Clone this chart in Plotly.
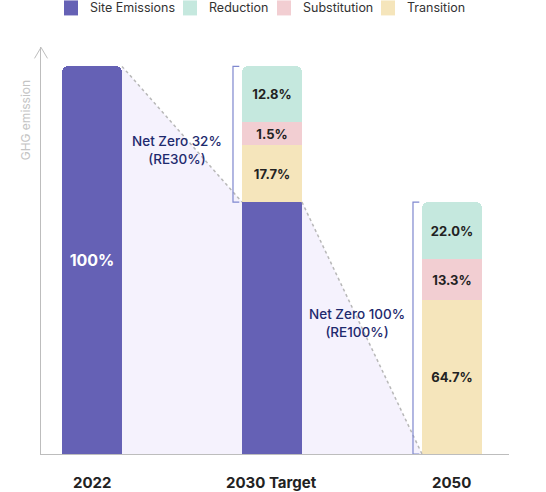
import plotly.graph_objects as go

# ---------------- data ----------------
categories = ["2022", "2030 Target", "2050"]
# displayed segment heights (share of the 2022 bar height)
site_heights = [100, 65, 0]
transition_heights = [0, 14.7, 39.7]
substitution_heights = [0, 5.9, 10.6]
reduction_heights = [0, 14.4, 14.7]
# label values
site_labels = ["100%", "", ""]
transition_labels = ["", "17.7%", "64.7%"]
substitution_labels = ["", "1.5%", "13.3%"]
reduction_labels = ["", "12.8%", "22.0%"]
net_zero_texts = ["Net Zero 32%<br>(RE30%)", "Net Zero 100%<br>(RE100%)"]

# ---------------- styling ----------------
FONT = "Inter"
C_SITE = "#6561B5"
C_RED = "#C5E8DE"
C_SUB = "#F2CED2"
C_TRA = "#F5E5BB"
C_FILL = "#F5F2FD"
C_AXIS = "#BDBDBD"
C_BRACKET = "#7F88CF"
C_NAVY = "#1E2A6E"

W, H = 546, 492
L, R, T, B = 41, 37, 46.6, 38
plot_h = H - T - B
x_pos = [0, 1, 2]
bw = 1 / 3
x_range = [-0.2833, 2.3167]
y_range = [0, 105]


def px_to_paper_y(py):
    return (H - B - py) / plot_h


def px_to_paper_x(px):
    return (px - L) / (W - L - R)


fig = go.Figure()

# lavender fill + dotted connector derived from bar data
tot2022 = site_heights[0] + transition_heights[0] + substitution_heights[0] + reduction_heights[0]
p1 = (x_pos[0] + bw / 2, tot2022)
p2 = (x_pos[1] - bw / 2, site_heights[1])
p3 = (x_pos[1] + bw / 2, site_heights[1])
p4 = (x_pos[2] - bw / 2, 0)

for a, b in [(p1, p2), (p3, p4)]:
    fig.add_trace(go.Scatter(
        x=[a[0], b[0], b[0], a[0], a[0]], y=[a[1], b[1], 0, 0, a[1]],
        fill="toself", fillcolor=C_FILL, line=dict(width=0),
        mode="lines", hoverinfo="skip", showlegend=False))
    fig.add_trace(go.Scatter(
        x=[a[0], b[0]], y=[a[1], b[1]], mode="lines",
        line=dict(color="#B8B8B8", width=1.5, dash="dot"),
        hoverinfo="skip", showlegend=False))

series = [
    ("Site Emissions", site_heights, site_labels, C_SITE, "white", 16),
    ("Transition", transition_heights, transition_labels, C_TRA, "#222222", 13),
    ("Substitution", substitution_heights, substitution_labels, C_SUB, "#222222", 13),
    ("Reduction", reduction_heights, reduction_labels, C_RED, "#222222", 13),
]
for name, vals, labels, color, tcol, tsize in series:
    fig.add_trace(go.Bar(
        x=x_pos, y=vals, name=name, width=bw, marker=dict(color=color, line=dict(width=0)),
        text=labels, textposition="inside", insidetextanchor="middle",
        textangle=0,
        textfont=dict(family=FONT, size=tsize, color=tcol, weight="bold"),
        showlegend=False, hoverinfo="skip"))

shapes = []
annotations = []

# brackets
gap = 0.05
tick = 0.035
tops = [site_heights[i] + transition_heights[i] + substitution_heights[i] + reduction_heights[i] for i in range(3)]
for i, lo in [(1, site_heights[1]), (2, 0)]:
    xb = x_pos[i] - bw / 2 - gap
    hi = tops[i]
    shapes.append(dict(type="path", xref="x", yref="y",
                       path=f"M {xb + tick} {hi} L {xb} {hi} L {xb} {lo} L {xb + tick} {lo}",
                       line=dict(color=C_BRACKET, width=1.2)))

# net zero annotations
annotations.append(dict(x=(p1[0] + p2[0]) / 2 - 0.025, y=78.5, xref="x", yref="y", text=net_zero_texts[0],
                        showarrow=False, xanchor="center", yanchor="middle",
                        font=dict(family=FONT, size=13.5, color=C_NAVY, weight=500)))
annotations.append(dict(x=(p3[0] + p4[0]) / 2 - 0.03, y=33.8, xref="x", yref="y", text=net_zero_texts[1],
                        showarrow=False, xanchor="center", yanchor="middle",
                        font=dict(family=FONT, size=13.5, color=C_NAVY, weight=500)))

# category labels
for xi, c in zip(x_pos, categories):
    annotations.append(dict(x=xi, y=0, xref="x", yref="y", text=c, showarrow=False,
                            xanchor="center", yanchor="top", yshift=-17,
                            font=dict(family=FONT, size=15, color="#222222", weight="bold")))

# y-axis title
annotations.append(dict(x=px_to_paper_x(25), y=px_to_paper_y(120), xref="paper", yref="paper",
                        text="GHG emission", textangle=-90, showarrow=False,
                        xanchor="center", yanchor="middle",
                        font=dict(family=FONT, size=12, color="#C4C4C4")))

# arrow head on y axis
shapes.append(dict(type="path", xref="paper", yref="paper",
                   path=f"M {px_to_paper_x(34.5)} {px_to_paper_y(58)} L 0 {px_to_paper_y(47)} L {px_to_paper_x(47.5)} {px_to_paper_y(58)}",
                   line=dict(color=C_AXIS, width=1)))

# manual legend
legend_items = [("Site Emissions", C_SITE, 64), ("Reduction", C_RED, 183),
                ("Substitution", C_SUB, 277), ("Transition", C_TRA, 381)]
for name, color, sx in legend_items:
    shapes.append(dict(type="rect", xref="paper", yref="paper",
                       x0=px_to_paper_x(sx), x1=px_to_paper_x(sx + 14),
                       y0=px_to_paper_y(15), y1=px_to_paper_y(0),
                       fillcolor=color, line=dict(width=0)))
    annotations.append(dict(x=px_to_paper_x(sx + 24), y=px_to_paper_y(7.5), xref="paper", yref="paper",
                            text=name, showarrow=False, xanchor="left", yanchor="middle",
                            font=dict(family=FONT, size=12.5, color="#333333")))

fig.update_layout(
    width=W, height=H, margin=dict(l=L, r=R, t=T, b=B),
    barmode="stack", barcornerradius=6, bargap=0,
    plot_bgcolor="white", paper_bgcolor="white",
    showlegend=False, shapes=shapes, annotations=annotations,
    font=dict(family=FONT),
    uniformtext=dict(mode=False),
    xaxis=dict(range=x_range, showgrid=False, zeroline=False, showticklabels=False,
               showline=True, linecolor=C_AXIS, linewidth=1, ticks="", fixedrange=True),
    yaxis=dict(range=y_range, showgrid=False, zeroline=False, showticklabels=False,
               showline=True, linecolor=C_AXIS, linewidth=1, ticks="", fixedrange=True),
)

fig.write_html("out.html", config={"displayModeBar": False},
               post_script="document.body.style.margin='0';document.body.style.overflow='hidden';")
